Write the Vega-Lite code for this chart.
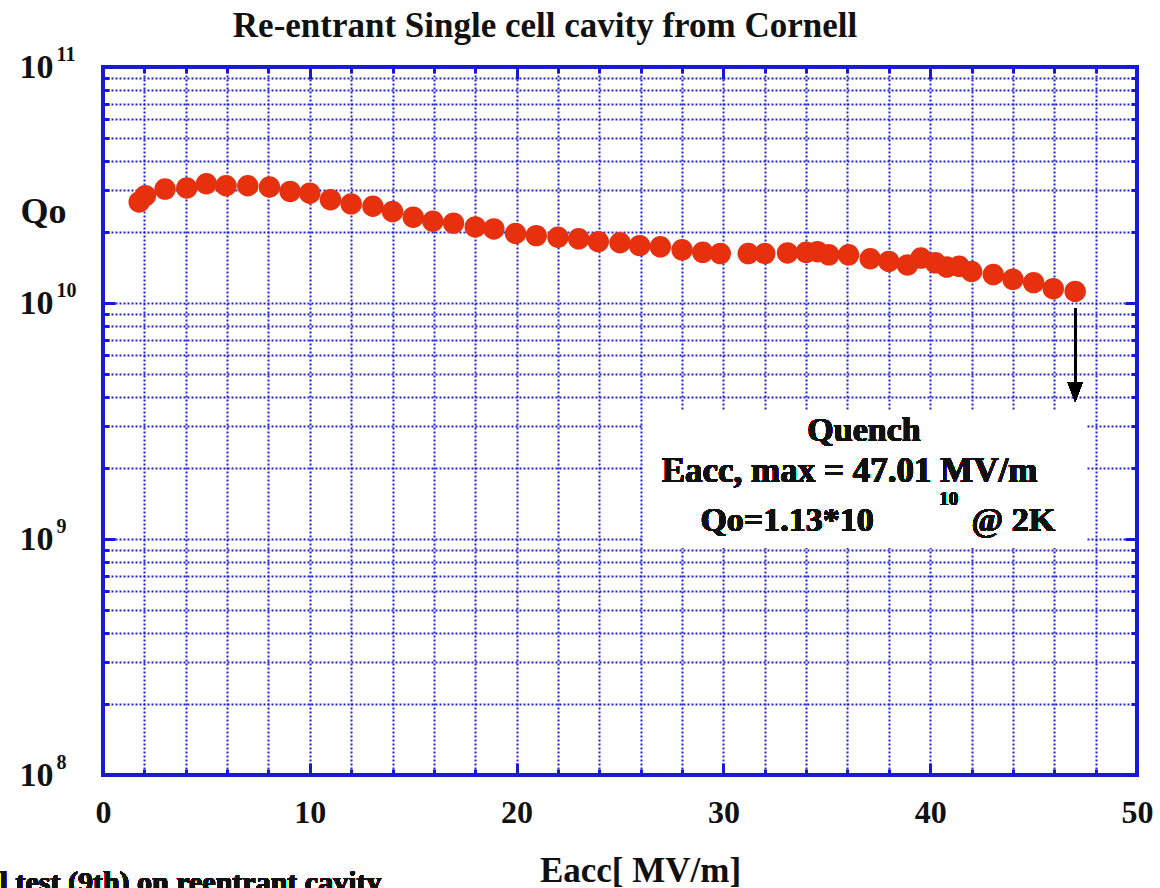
{
  "$schema": "https://vega.github.io/schema/vega-lite/v6.json",
  "width": 1034,
  "height": 708,
  "autosize": "none",
  "padding": {"left": 103, "top": 67, "right": 23, "bottom": 113},
  "background": "white",
  "title": {"text": "Re-entrant Single cell cavity from Cornell", "font": "Liberation Serif", "fontSize": 35, "fontWeight": "bold", "color": "#111111", "anchor": "middle", "frame": "group", "dx": -75, "offset": 0, "dy": 0},
  "data": {"values": [
    {"E": 1.75, "Q": 2.68e10}, {"E": 2.05, "Q": 2.85e10}, {"E": 3.0, "Q": 3.04e10}, {"E": 4.05, "Q": 3.07e10},
    {"E": 5.0, "Q": 3.2e10}, {"E": 5.95, "Q": 3.14e10}, {"E": 7.0, "Q": 3.14e10}, {"E": 8.05, "Q": 3.1e10},
    {"E": 9.05, "Q": 2.97e10}, {"E": 10.0, "Q": 2.92e10}, {"E": 11.0, "Q": 2.74e10}, {"E": 12.0, "Q": 2.63e10},
    {"E": 13.05, "Q": 2.57e10}, {"E": 14.0, "Q": 2.44e10}, {"E": 15.0, "Q": 2.31e10}, {"E": 15.95, "Q": 2.22e10},
    {"E": 16.95, "Q": 2.18e10}, {"E": 18.0, "Q": 2.1e10}, {"E": 18.9, "Q": 2.06e10}, {"E": 19.95, "Q": 1.97e10},
    {"E": 20.95, "Q": 1.93e10}, {"E": 22.0, "Q": 1.9e10}, {"E": 23.0, "Q": 1.87e10}, {"E": 23.95, "Q": 1.82e10},
    {"E": 25.0, "Q": 1.8e10}, {"E": 25.95, "Q": 1.75e10}, {"E": 26.95, "Q": 1.73e10}, {"E": 28.0, "Q": 1.68e10},
    {"E": 29.0, "Q": 1.64e10}, {"E": 29.85, "Q": 1.62e10}, {"E": 31.2, "Q": 1.62e10}, {"E": 32.0, "Q": 1.62e10},
    {"E": 33.1, "Q": 1.63e10}, {"E": 34.0, "Q": 1.64e10}, {"E": 34.55, "Q": 1.65e10}, {"E": 35.1, "Q": 1.6e10},
    {"E": 36.05, "Q": 1.6e10}, {"E": 37.1, "Q": 1.54e10}, {"E": 38.0, "Q": 1.5e10}, {"E": 38.9, "Q": 1.45e10},
    {"E": 39.55, "Q": 1.55e10}, {"E": 40.25, "Q": 1.48e10}, {"E": 40.8, "Q": 1.42e10}, {"E": 41.4, "Q": 1.43e10},
    {"E": 42.0, "Q": 1.36e10}, {"E": 43.05, "Q": 1.32e10}, {"E": 44.0, "Q": 1.26e10}, {"E": 45.0, "Q": 1.22e10},
    {"E": 45.95, "Q": 1.15e10}, {"E": 47.01, "Q": 1.12e10}
  ]},
  "config": {
    "view": {"stroke": "#1818d8", "strokeWidth": 4},
    "axis": {"domain": false, "tickColor": "#1818d8", "tickWidth": 3, "gridColor": "#2222cc", "gridDash": [2, 2], "gridWidth": 2, "gridOpacity": 1, "labelFont": "Liberation Serif", "labelFontWeight": "bold", "labelColor": "#111111", "titleFont": "Liberation Serif", "titleFontWeight": "bold", "titleColor": "#111111"}
  },
  "resolve": {"axis": {"x": "independent", "y": "independent"}},
  "layer": [
    {
      "mark": {"type": "point", "opacity": 0},
      "encoding": {
        "x": {"field": "E", "type": "quantitative", "scale": {"domain": [0, 50], "nice": false, "zero": false},
          "axis": {"orient": "bottom", "values": [0,2,4,6,8,10,12,14,16,18,20,22,24,26,28,30,32,34,36,38,40,42,44,46,48,50], "grid": true, "ticks": false, "tickSize": 0, "labelExpr": "datum.value % 10 === 0 ? datum.label : ''", "labelFontSize": 32, "labelPadding": 22, "labelFlush": false, "labelOverlap": false, "title": "Eacc[ MV/m]", "titleFontSize": 35, "titleX": 537, "titleY": 95, "titleAlign": "center", "titleBaseline": "middle"}},
        "y": {"field": "Q", "type": "quantitative", "scale": {"type": "log", "domain": [1e8, 1e11], "nice": false},
          "axis": {"orient": "left", "values": [1e8,2e8,3e8,4e8,5e8,6e8,7e8,8e8,9e8,1e9,2e9,3e9,4e9,5e9,6e9,7e9,8e9,9e9,1e10,2e10,3e10,4e10,5e10,6e10,7e10,8e10,9e10,1e11], "grid": true, "ticks": false, "tickSize": 0, "labels": false, "title": "Qo", "titleFontSize": 36, "titleAngle": 0, "titleX": -60, "titleY": 144, "titleAlign": "center", "titleBaseline": "middle"}}
      }
    },
    {
      "mark": {"type": "point", "opacity": 0},
      "encoding": {
        "x": {"field": "E", "type": "quantitative", "scale": {"domain": [0, 50], "nice": false, "zero": false},
          "axis": {"orient": "bottom", "values": [0,2,4,6,8,10,12,14,16,18,20,22,24,26,28,30,32,34,36,38,40,42,44,46,48,50], "offset": -6, "tickSize": 6, "labels": false, "grid": false, "title": null}},
        "y": {"field": "Q", "type": "quantitative", "scale": {"type": "log", "domain": [1e8, 1e11], "nice": false},
          "axis": {"orient": "left", "values": [1e8,2e8,3e8,4e8,5e8,6e8,7e8,8e8,9e8,1e9,2e9,3e9,4e9,5e9,6e9,7e9,8e9,9e9,1e10,2e10,3e10,4e10,5e10,6e10,7e10,8e10,9e10,1e11], "offset": -6, "tickSize": 6, "labels": false, "grid": false, "title": null}}
      }
    },
    {
      "mark": {"type": "point", "opacity": 0},
      "encoding": {
        "x": {"field": "E", "type": "quantitative", "scale": {"domain": [0, 50], "nice": false, "zero": false},
          "axis": {"orient": "top", "values": [0,2,4,6,8,10,12,14,16,18,20,22,24,26,28,30,32,34,36,38,40,42,44,46,48,50], "offset": -6, "tickSize": 6, "labels": false, "grid": false, "title": null}},
        "y": {"field": "Q", "type": "quantitative", "scale": {"type": "log", "domain": [1e8, 1e11], "nice": false},
          "axis": {"orient": "right", "values": [1e8,2e8,3e8,4e8,5e8,6e8,7e8,8e8,9e8,1e9,2e9,3e9,4e9,5e9,6e9,7e9,8e9,9e9,1e10,2e10,3e10,4e10,5e10,6e10,7e10,8e10,9e10,1e11], "offset": -6, "tickSize": 6, "labels": false, "grid": false, "title": null}}
      }
    },
    {
      "mark": {"type": "point", "opacity": 0},
      "encoding": {
        "x": {"field": "E", "type": "quantitative", "scale": {"domain": [0, 50], "nice": false, "zero": false},
          "axis": {"orient": "bottom", "values": [0,10,20,30,40,50], "offset": -12, "tickSize": 12, "labels": false, "grid": false, "title": null}},
        "y": {"field": "Q", "type": "quantitative", "scale": {"type": "log", "domain": [1e8, 1e11], "nice": false},
          "axis": {"orient": "left", "values": [1e8, 1e9, 1e10, 1e11], "offset": -12, "tickSize": 12, "grid": false, "title": null, "labelExpr": "'10'", "labelFontSize": 34, "labelPadding": 50, "labelOverlap": false, "labelBound": false}}
      }
    },
    {
      "mark": {"type": "point", "opacity": 0},
      "encoding": {
        "x": {"field": "E", "type": "quantitative", "scale": {"domain": [0, 50], "nice": false, "zero": false},
          "axis": {"orient": "top", "values": [0,10,20,30,40,50], "offset": -12, "tickSize": 12, "labels": false, "grid": false, "title": null}},
        "y": {"field": "Q", "type": "quantitative", "scale": {"type": "log", "domain": [1e8, 1e11], "nice": false},
          "axis": {"orient": "right", "values": [1e8, 1e9, 1e10, 1e11], "offset": -12, "tickSize": 12, "labels": false, "grid": false, "title": null}}
      }
    },
    {
      "mark": {"type": "point", "opacity": 0},
      "encoding": {
        "x": {"field": "E", "type": "quantitative", "scale": {"domain": [0, 50], "nice": false, "zero": false}, "axis": null},
        "y": {"field": "Q", "type": "quantitative", "scale": {"type": "log", "domain": [1e8, 1e11], "nice": false},
          "axis": {"orient": "left", "values": [1e8, 1e9, 1e10, 1e11], "ticks": false, "tickSize": 0, "grid": false, "title": null, "labelExpr": "'' + round(log(datum.value) / LN10)", "labelFontSize": 20, "labelAlign": "left", "labelPadding": 47, "labelOffset": -13, "labelOverlap": false}}
      }
    },
    {
      "mark": {"type": "rect", "color": "white", "opacity": 1},
      "encoding": {
        "x": {"datum": 26.15, "type": "quantitative", "axis": null},
        "x2": {"datum": 47.55},
        "y": {"datum": 3.5e9, "type": "quantitative", "axis": null},
        "y2": {"datum": 9.2e8}
      }
    },
    {
      "mark": {"type": "circle", "size": 460, "color": "#e6300e", "opacity": 1},
      "encoding": {
        "x": {"field": "E", "type": "quantitative", "axis": null},
        "y": {"field": "Q", "type": "quantitative", "axis": null}
      }
    },
    {
      "mark": {"type": "rule", "color": "black", "strokeWidth": 2},
      "encoding": {
        "x": {"datum": 47.01, "type": "quantitative", "axis": null},
        "y": {"datum": 9.5e9, "type": "quantitative", "axis": null},
        "y2": {"datum": 4.4e9}
      }
    },
    {
      "mark": {"type": "point", "shape": "M-1,-1.3L1,-1.3L0,1.3Z", "filled": true, "color": "black", "size": 225, "opacity": 1},
      "encoding": {
        "x": {"datum": 47.01, "type": "quantitative", "axis": null},
        "y": {"datum": 4.2e9, "type": "quantitative", "axis": null}
      }
    },
    {
      "mark": {"type": "text", "font": "Liberation Serif", "fontWeight": "bold", "fontSize": 34, "color": "#111111", "align": "center", "baseline": "middle"},
      "encoding": {
        "x": {"datum": 36.8, "type": "quantitative", "axis": null},
        "y": {"datum": 2.88e9, "type": "quantitative", "axis": null},
        "text": {"value": "Quench"}
      }
    },
    {
      "mark": {"type": "text", "font": "Liberation Serif", "fontWeight": "bold", "fontSize": 35, "color": "#111111", "align": "center", "baseline": "middle"},
      "encoding": {
        "x": {"datum": 36.1, "type": "quantitative", "axis": null},
        "y": {"datum": 1.95e9, "type": "quantitative", "axis": null},
        "text": {"value": "Eacc, max = 47.01 MV/m"}
      }
    },
    {
      "mark": {"type": "text", "font": "Liberation Serif", "fontWeight": "bold", "fontSize": 34, "color": "#111111", "align": "right", "baseline": "middle"},
      "encoding": {
        "x": {"datum": 37.27, "type": "quantitative", "axis": null},
        "y": {"datum": 1.19e9, "type": "quantitative", "axis": null},
        "text": {"value": "Qo=1.13*10"}
      }
    },
    {
      "mark": {"type": "text", "font": "Liberation Serif", "fontWeight": "bold", "fontSize": 19, "color": "#111111", "align": "center", "baseline": "middle"},
      "encoding": {
        "x": {"datum": 40.9, "type": "quantitative", "axis": null},
        "y": {"datum": 1.48e9, "type": "quantitative", "axis": null},
        "text": {"value": "10"}
      }
    },
    {
      "mark": {"type": "text", "font": "Liberation Serif", "fontWeight": "bold", "fontSize": 34, "color": "#111111", "align": "left", "baseline": "middle"},
      "encoding": {
        "x": {"datum": 42.0, "type": "quantitative", "axis": null},
        "y": {"datum": 1.19e9, "type": "quantitative", "axis": null},
        "text": {"value": "@ 2K"}
      }
    },
    {
      "mark": {"type": "text", "font": "Liberation Serif", "fontWeight": "bold", "fontSize": 30, "color": "#111111", "align": "left", "baseline": "alphabetic"},
      "encoding": {
        "x": {"datum": -5.0, "type": "quantitative", "axis": null},
        "y": {"datum": 3.2e7, "type": "quantitative", "axis": null},
        "text": {"value": "l test (9th) on reentrant cavity"}
      }
    }
  ]
}
